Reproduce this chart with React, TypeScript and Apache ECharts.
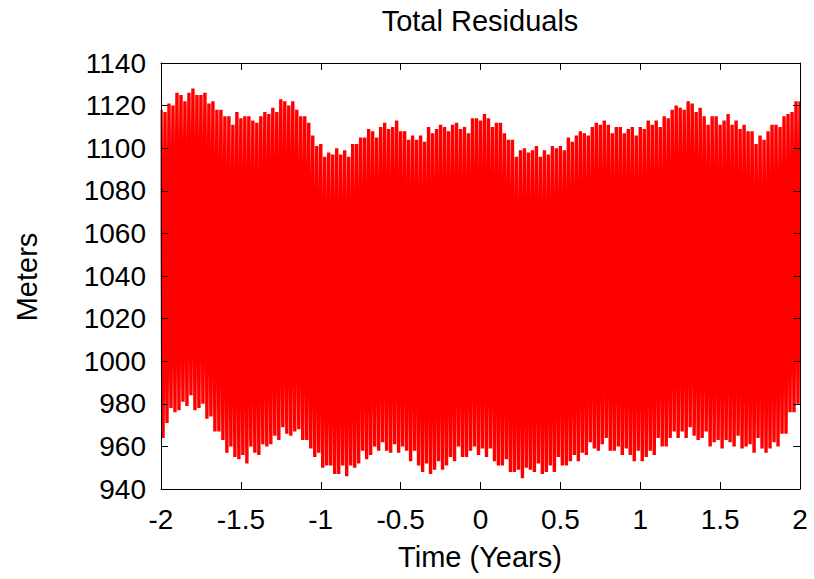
import React, { useEffect, useRef } from "react";
import * as echarts from "echarts";

// Sampling grid of the residual peaks (years)
const tStart = -2;
const tStep = 0.025;

// Upper peaks (metres), read every 0.025 yr from -2 to 2
const upperPeaks = [
  1118, 1117, 1121, 1120, 1126, 1125, 1122, 1126, 1128, 1125,
  1125, 1126, 1121, 1122, 1118, 1118, 1115, 1115, 1111, 1117,
  1114, 1115, 1115, 1113, 1112, 1115, 1117, 1116, 1119, 1117,
  1123, 1122, 1120, 1122, 1118, 1115, 1115, 1112, 1106, 1101,
  1102, 1096, 1098, 1097, 1100, 1097, 1099, 1096, 1102, 1102,
  1105, 1105, 1109, 1108, 1105, 1110, 1112, 1109, 1110, 1113,
  1108, 1108, 1104, 1106, 1104, 1106, 1103, 1110, 1107, 1109,
  1111, 1110, 1108, 1111, 1112, 1109, 1110, 1107, 1114, 1114,
  1113, 1116, 1114, 1110, 1112, 1112, 1107, 1104, 1104, 1096,
  1099, 1100, 1098, 1099, 1101, 1096, 1099, 1097, 1101, 1100,
  1101, 1099, 1105, 1103, 1106, 1108, 1107, 1106, 1110, 1112,
  1111, 1113, 1111, 1107, 1110, 1110, 1107, 1109, 1110, 1106,
  1110, 1109, 1113, 1111, 1113, 1110, 1115, 1114, 1118, 1120,
  1119, 1118, 1122, 1121, 1117, 1119, 1115, 1111, 1115, 1115,
  1111, 1113, 1116, 1111, 1113, 1109, 1111, 1108, 1108, 1102,
  1106, 1104, 1108, 1111, 1111, 1110, 1115, 1116, 1117, 1122,
  1122,
];

// Lower troughs (metres), read every 0.025 yr, half a step after each peak
const lowerTroughs = [
  964, 971, 978, 976, 977, 981, 979, 984, 977, 978,
  980, 973, 974, 967, 967, 963, 957, 960, 955, 954,
  956, 952, 960, 957, 956, 961, 960, 961, 965, 963,
  969, 966, 965, 967, 968, 963, 963, 959, 955, 957,
  950, 951, 951, 947, 947, 951, 946, 951, 950, 952,
  958, 954, 956, 960, 958, 962, 958, 957, 961, 957,
  960, 958, 953, 958, 951, 948, 952, 947, 949, 953,
  949, 951, 955, 953, 960, 955, 955, 958, 960, 956,
  959, 955, 959, 953, 951, 951, 954, 948, 948, 949,
  945, 950, 949, 948, 952, 947, 948, 951, 948, 955,
  951, 951, 953, 956, 953, 957, 956, 962, 959, 958,
  961, 964, 958, 958, 960, 956, 959, 956, 953, 958,
  953, 955, 958, 956, 964, 960, 960, 964, 967, 964,
  967, 964, 969, 965, 963, 964, 967, 960, 962, 963,
  959, 963, 962, 960, 965, 959, 960, 961, 957, 964,
  959, 957, 959, 962, 960, 966, 966, 976, 976, 980,
  988,
];

const titleText = "Total Residuals";
const xName = "Time (Years)";
const yName = "Meters";

const FONT = "'Liberation Sans', Arial, Helvetica, sans-serif";

export default function App() {
  const ref = useRef<HTMLDivElement>(null);

  useEffect(() => {
    if (!ref.current) return;
    const chart = echarts.init(ref.current, undefined, { renderer: "svg" });

    const zig: number[][] = [];
    for (let i = 0; i < upperPeaks.length; i++) {
      const t = tStart + i * tStep;
      zig.push([t, upperPeaks[i]]);
      zig.push([t + tStep / 2, lowerTroughs[i]]);
    }

    const axisLine = { show: true, onZero: false, lineStyle: { color: "#000", width: 1 } };
    const tick = { show: true, inside: true, length: 7, lineStyle: { color: "#000", width: 1 } };
    const label = { color: "#000", fontSize: 28, fontFamily: FONT };

    chart.setOption({
      animation: false,
      backgroundColor: "#fff",
      grid: { left: 161, right: 14, top: 63, bottom: 90, containLabel: false },
      xAxis: [
        {
          type: "value", min: -2, max: 2, interval: 0.5, position: "bottom", z: 5,
          axisLine, axisTick: tick, splitLine: { show: false },
          axisLabel: { ...label, margin: 16, formatter: (v: number) => String(v) },
        },
        {
          type: "value", min: -2, max: 2, interval: 0.5, position: "top", z: 5,
          axisLine, axisTick: tick, splitLine: { show: false }, axisLabel: { show: false },
        },
      ],
      yAxis: [
        {
          type: "value", min: 940, max: 1140, interval: 20, position: "left", z: 5,
          axisLine, axisTick: tick, splitLine: { show: false },
          axisLabel: { ...label, margin: 15, formatter: (v: number) => String(v) },
        },
        {
          type: "value", min: 940, max: 1140, interval: 20, position: "right", z: 5,
          axisLine, axisTick: tick, splitLine: { show: false }, axisLabel: { show: false },
        },
      ],
      graphic: [
        {
          type: "rect", z: 3, silent: true,
          shape: { x: 801, y: 55, width: 13, height: 440 },
          style: { fill: "#fff" },
        },
        {
          type: "rect", z: 3, silent: true,
          shape: { x: 150, y: 55, width: 10.5, height: 440 },
          style: { fill: "#fff" },
        },
        {
          type: "text", x: 480, y: 21,
          style: { text: titleText, fill: "#000", font: `29px ${FONT}`, textAlign: "center", textVerticalAlign: "middle" },
        },
        {
          type: "text", x: 480, y: 557,
          style: { text: xName, fill: "#000", font: `29px ${FONT}`, textAlign: "center", textVerticalAlign: "middle" },
        },
        {
          type: "text", x: 27, y: 277, rotation: Math.PI / 2,
          style: { text: yName, fill: "#000", font: `29px ${FONT}`, textAlign: "center", textVerticalAlign: "middle" },
        },
      ],
      series: [
        {
          type: "line",
          data: zig,
          showSymbol: false,
          clip: true,
          silent: true,
          lineStyle: { color: "#ff0000", width: 3.4, join: "bevel" },
          z: 1,
        },
      ],
    });

    return () => chart.dispose();
  }, []);

  return (
    <div
      ref={ref}
      style={{ position: "absolute", left: 0, top: 0, width: 814, height: 579 }}
    />
  );
}
